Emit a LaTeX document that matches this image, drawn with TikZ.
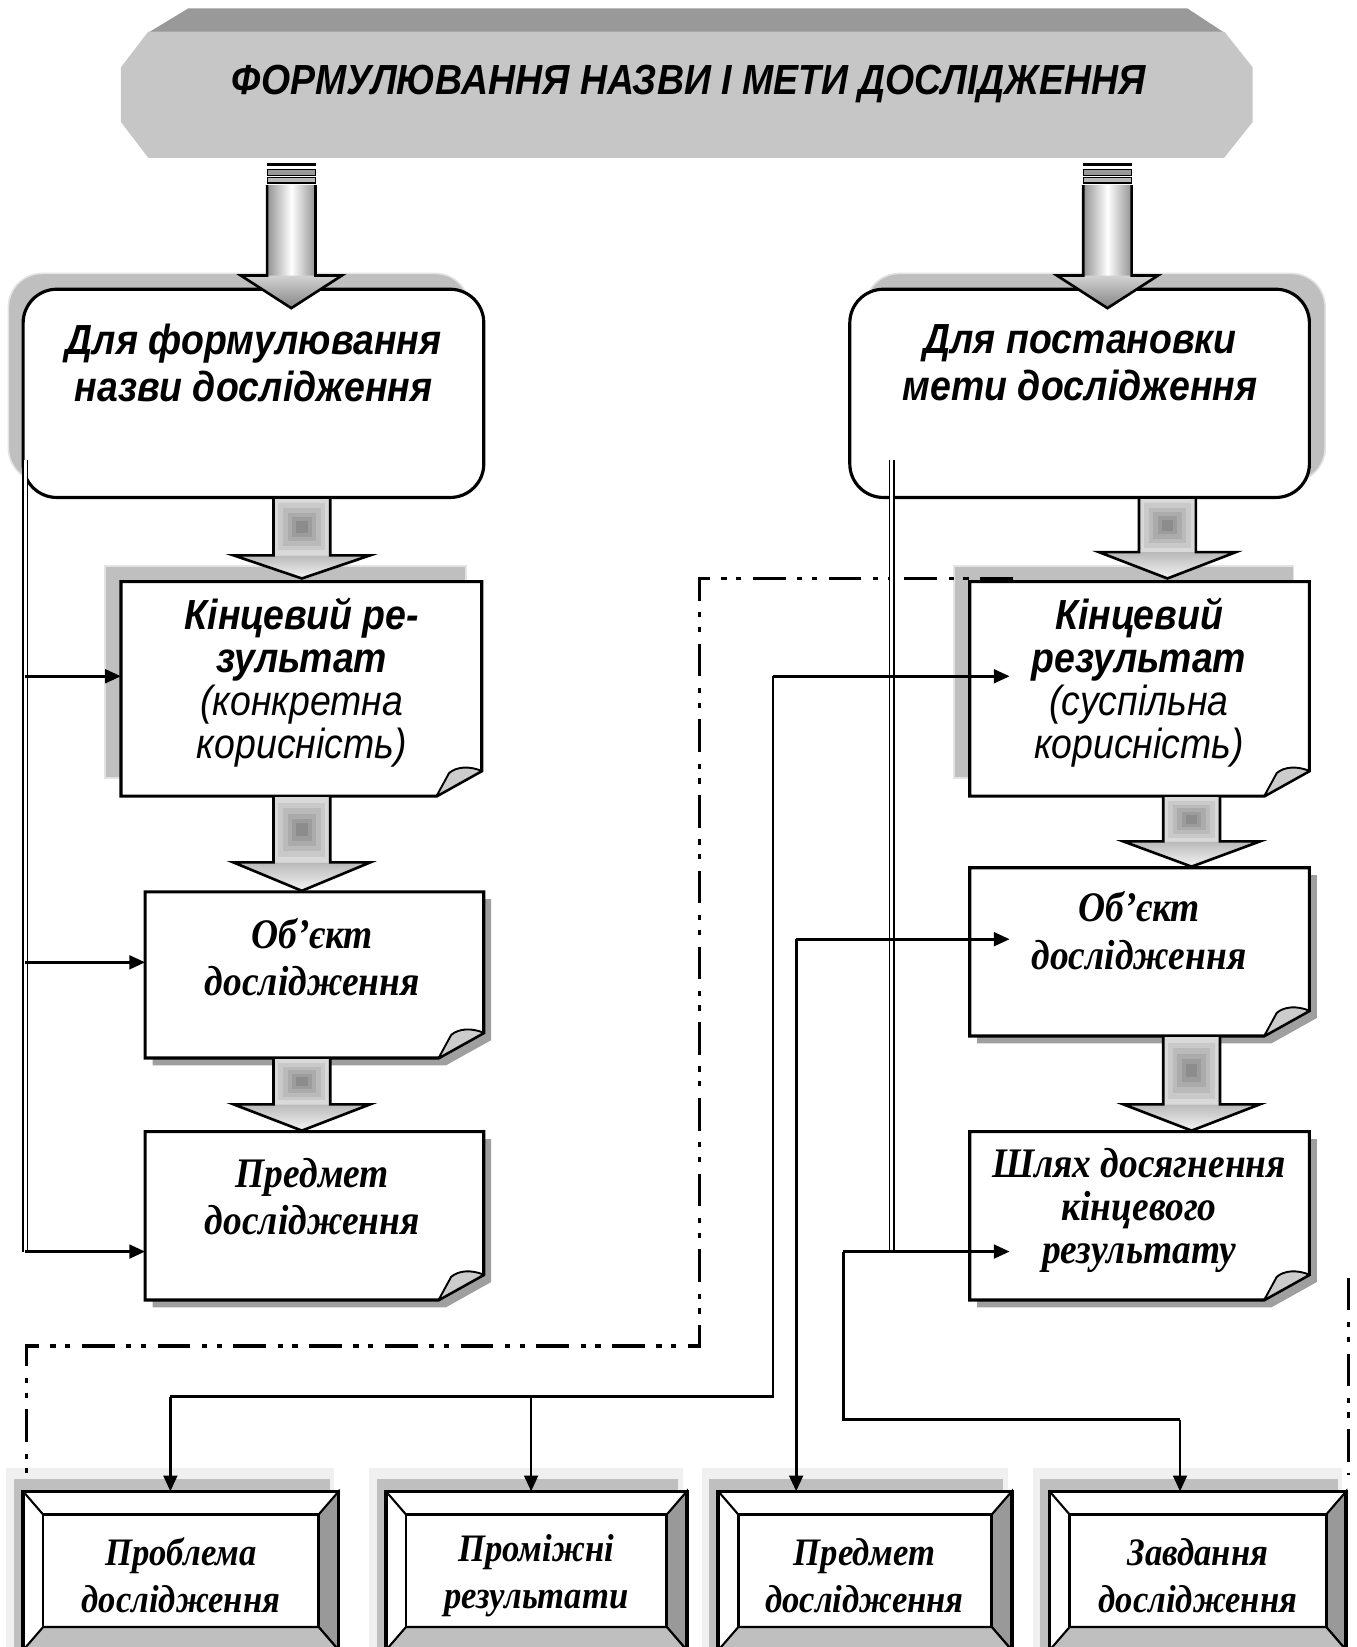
\documentclass[tikz,border=0pt]{standalone}
\usepackage{fontspec}
\setmainfont{Liberation Serif}[FakeStretch=0.89]
\newfontfamily\arialf{Liberation Sans}[FakeStretch=0.89]
\usetikzlibrary{arrows.meta}

% block arrow from the banner (striped tail, gradient)
\newcommand\toparrow[1]{%
  \begin{scope}[shift={(#1,0)}]
    \fill[black] (-23,155) rectangle (23,158);
    \filldraw[fill=gray!80, draw=black, line width=1.2pt] (-23,161) rectangle (23,167);
    \filldraw[fill=gray!55, draw=black, line width=1.2pt] (-23,169) rectangle (23,174);
    \shade[left color=gray!85, right color=gray!85, middle color=white] (-23,176) rectangle (23,263);
    \shade[top color=gray!35, bottom color=gray!95] (-48,262) -- (48,262) -- (0,293) -- cycle;
    \draw[line width=2.5pt] (-23,176) -- (-23,262) -- (-48,262) -- (0,293) -- (48,262) -- (23,262) -- (23,176);
  \end{scope}}

% block arrow between boxes: cx, top, head top, tip
\newcommand\midarrow[4]{%
  \foreach \rr/\gc in {0/30,0.17/42,0.34/54,0.5/66,0.66/78,0.8/90}{
    \fill[gray!\gc] ({#1-27*(1-\rr)},{#2+(#3-#2)/2*\rr}) rectangle ({#1+27*(1-\rr)},{#3-(#3-#2)/2*\rr});
  }
  \shade[top color=gray!55, bottom color=gray!8] (#1-65,#3) -- (#1+65,#3) -- (#1,#4) -- cycle;
  \draw[line width=2.5pt] (#1-27,#2) -- (#1-27,#3) -- (#1-65,#3) -- (#1,#4) -- (#1+65,#3) -- (#1+27,#3) -- (#1+27,#2);
}

% document box with folded corner: name, L, T, R, B
\newcommand\docbox[5]{%
  \filldraw[fill=white, line width=3pt] (#2,#3) -- (#4,#3) -- (#4,#5-24) -- (#4-43,#5) -- (#2,#5) -- cycle;
  \filldraw[fill=gray!40, line width=1.8pt, line join=round] (#4,#5-24) .. controls (#4-12,#5-29) and (#4-24,#5-28) .. (#4-31,#5-22) -- (#4-43,#5) -- cycle;
  \node[frame, minimum width={#4-#2}, minimum height={#5-#3}] (#1) at ({(#2+#4)/2},{(#3+#5)/2}) {};
}
\newcommand\docshadowdr[4]{%
  \fill[gray!75] (#1+7,#2+7) -- (#3+7,#2+7) -- (#3+7,#4-17) -- (#3-36,#4+7) -- (#1+7,#4+7) -- cycle;}
\newcommand\docshadowul[4]{%
  \filldraw[fill=gray!50, draw=gray!22, line width=1.5pt] (#1-15,#2-15) rectangle (#3-15,#4-17);}

% bevelled frame: name, L, T, R, B
\newcommand\bevbox[5]{%
  \fill[gray!12] (#2-16,#3-22) rectangle (#4-4,#5);
  \fill[gray!50] (#2-9,#3-12) rectangle (#4-8,#5);
  \fill[white] (#2,#3) rectangle (#4,#5);
  \filldraw[fill=gray!80, line width=2pt] (#4,#3) -- (#4,#5) -- (#4-19,#5-22) -- (#4-19,#3+22) -- cycle;
  \filldraw[fill=gray!50, line width=2pt] (#2,#5) -- (#4,#5) -- (#4-19,#5-22) -- (#2+19,#5-22) -- cycle;
  \draw[line width=2pt] (#2,#3) -- (#2+19,#3+22);
  \draw[line width=2.5pt] (#2+19,#3+22) rectangle (#4-19,#5-22);
  \draw[line width=3.5pt] (#2,#3) rectangle (#4,#5);
  \node[frame, minimum width={#4-#2}, minimum height={#5-#3}] (#1) at ({(#2+#4)/2},{(#3+#5)/2}) {};
}

\begin{document}
\begin{tikzpicture}[x=1pt, y=-1pt, line join=miter,
  frame/.style={draw=none, inner sep=0pt, outer sep=0pt, rectangle},
  rbox/.style={draw, fill=white, line width=3pt, rounded corners=32pt, inner sep=0pt},
  conn/.style={line width=2.6pt, -{Triangle[length=15pt,width=13pt]}},
  plainline/.style={line width=2.6pt},
  dline/.style={double, double distance=3pt, line width=1.4pt},
  dashdotline/.style={line width=3.4pt, dash pattern=on 31pt off 11pt on 5pt off 9pt on 5pt off 11pt},
  arialtxt/.style={font=\arialf\bfseries\itshape\fontsize{40}{45}\selectfont, align=center, inner sep=0pt},
  arialtxtb/.style={font=\arialf\itshape\fontsize{40}{41}\selectfont, align=center, inner sep=0pt},
  timestxt/.style={font=\bfseries\itshape\fontsize{40}{45}\selectfont, align=center, inner sep=0pt},
  timestxtb/.style={font=\bfseries\itshape\fontsize{40}{41}\selectfont, align=center, inner sep=0pt},
  bottxt/.style={font=\bfseries\itshape\fontsize{37}{45}\selectfont, align=center, inner sep=0pt}
]
\useasboundingbox (0,0) rectangle (1290,1566);
\clip (0,0) rectangle (1290,1566);

% ---------- banner ----------
\fill[gray!80] (141,31) -- (179,8) -- (1129,8) -- (1164,31) -- cycle;
\fill[gray!45] (141,30) -- (1164,30) -- (1191,64) -- (1191,116) -- (1164,150) -- (141,150) -- (115,116) -- (115,64) -- cycle;
\node[font=\arialf\bfseries\itshape\fontsize{40}{40}\selectfont, inner sep=0pt] (title) at (655,80) {ФОРМУЛЮВАННЯ НАЗВИ І МЕТИ ДОСЛІДЖЕННЯ};

% ---------- rounded boxes ----------
\filldraw[fill=gray!50, draw=gray!22, line width=1.5pt, rounded corners=32pt] (8,260) rectangle (446,458);
\filldraw[fill=gray!50, draw=gray!22, line width=1.5pt, rounded corners=32pt] (823,260) rectangle (1260,458);
\node[rbox, minimum width=438, minimum height=198] (N1) at (241,374) {};
\node[rbox, minimum width=437, minimum height=198] (N2) at (1026.5,374) {};
\node[arialtxt] (N1t) at (241,345) {Для формулювання\\назви дослідження};
\node[arialtxt] (N2t) at (1027,345) {Для постановки\\мети дослідження};

% ---------- document boxes ----------
\docshadowul{115}{553}{458}{757}
\docshadowul{922}{553}{1245}{757}
\docshadowdr{138}{848}{460}{1006}
\docshadowdr{138}{1076}{460}{1236}
\docshadowdr{922}{825}{1245}{985}
\docshadowdr{922}{1076}{1245}{1236}
\docbox{L1}{115}{553}{458}{757}
\docbox{L2}{138}{848}{460}{1006}
\docbox{L3}{138}{1076}{460}{1236}
\docbox{R1}{922}{553}{1245}{757}
\docbox{R2}{922}{825}{1245}{985}
\docbox{R3}{922}{1076}{1245}{1236}

\node[arialtxtb] (L1t) at (287,649) {\bfseries Кінцевий ре-\\\bfseries зультат\\\mdseries (конкретна\\корисність)};
\node[arialtxtb] (R1t) at (1083,649) {\bfseries Кінцевий\\\bfseries результат\\\mdseries (суспільна\\корисність)};
\node[timestxt] (L2t) at (297,910) {Об’єкт\\дослідження};
\node[timestxt] (L3t) at (297,1138) {Предмет\\дослідження};
\node[timestxt] (R2t) at (1083,885) {Об’єкт\\дослідження};
\node[timestxtb] (R3t) at (1083,1151) {Шлях досягнення\\кінцевого\\результату};

% ---------- bottom bevelled boxes ----------
\bevbox{P1}{22}{1418}{322}{1569}
\bevbox{P2}{367}{1418}{653}{1569}
\bevbox{P3}{683}{1418}{962}{1569}
\bevbox{P4}{998}{1418}{1280}{1569}
\node[bottxt] (P1t) at (172,1498) {Проблема\\дослідження};
\node[bottxt] (P2t) at (510,1498) {Проміжні\\результати};
\node[bottxt] (P3t) at (822,1498) {Предмет\\дослідження};
\node[bottxt] (P4t) at (1139,1498) {Завдання\\дослідження};

% ---------- block arrows ----------
\toparrow{277}
\toparrow{1053}
\midarrow{287}{474}{528}{550}
\midarrow{287}{758}{820}{847}
\midarrow{287}{1007}{1050}{1075}
\midarrow{1110}{474}{525}{550}
\midarrow{1133}{758}{800}{824}
\midarrow{1133}{986}{1050}{1075}

% ---------- dash-dot frame ----------
\coordinate (d1) at (963,550);
\coordinate (d2) at (665,550);
\coordinate (d3) at (665,1280);
\coordinate (d4) at (25,1280);
\coordinate (d5) at (25,1405);
\coordinate (d6) at (1282,1215);
\coordinate (d7) at (1282,1402);
\draw[dashdotline] (d1) -- (d2) -- (d3) -- (d4) -- (d5);
\draw[dashdotline] (d6) -- (d7);

% ---------- left connectors ----------
\coordinate (lt) at (24,437);
\coordinate (jl1) at (24,643);
\coordinate (jl2) at (24,915);
\coordinate (jl3) at (24,1190);
\draw[dline] (lt) -- (jl3);
\draw[conn] (jl1) -- (jl1 -| L1.west);
\draw[conn] (jl2) -- (jl2 -| L2.west);
\draw[conn] (jl3) -- (jl3 -| L3.west);

% ---------- right connectors ----------
\coordinate (rt) at (848,437);
\coordinate (rj) at (848,1190);
\draw[dline] (rt) -- (rj);

\coordinate (a1) at (735,643);
\coordinate (a2) at (735,1328);
\coordinate (a3) at (162,1328);
\coordinate (a4) at (505,1328);
\coordinate (t1) at (960,643);
\draw[plainline] (a1) -- (a2) -- (a3);
\draw[conn] (a1) -- (t1);
\draw[conn] (a3) -- (a3 |- P1.north);
\draw[conn] (a4) -- (a4 |- P2.north);

\coordinate (b1) at (757,893);
\coordinate (t2) at (960,893);
\draw[conn] (b1) -- (t2);
\draw[conn] (b1) -- (b1 |- P3.north);

\coordinate (c1) at (802,1190);
\coordinate (c2) at (802,1350);
\coordinate (c3) at (1122,1350);
\coordinate (t3) at (960,1190);
\draw[conn] (c1) -- (t3);
\draw[plainline] (c1) -- (c2) -- (c3);
\draw[conn] (c3) -- (c3 |- P4.north);
\end{tikzpicture}
\end{document}
